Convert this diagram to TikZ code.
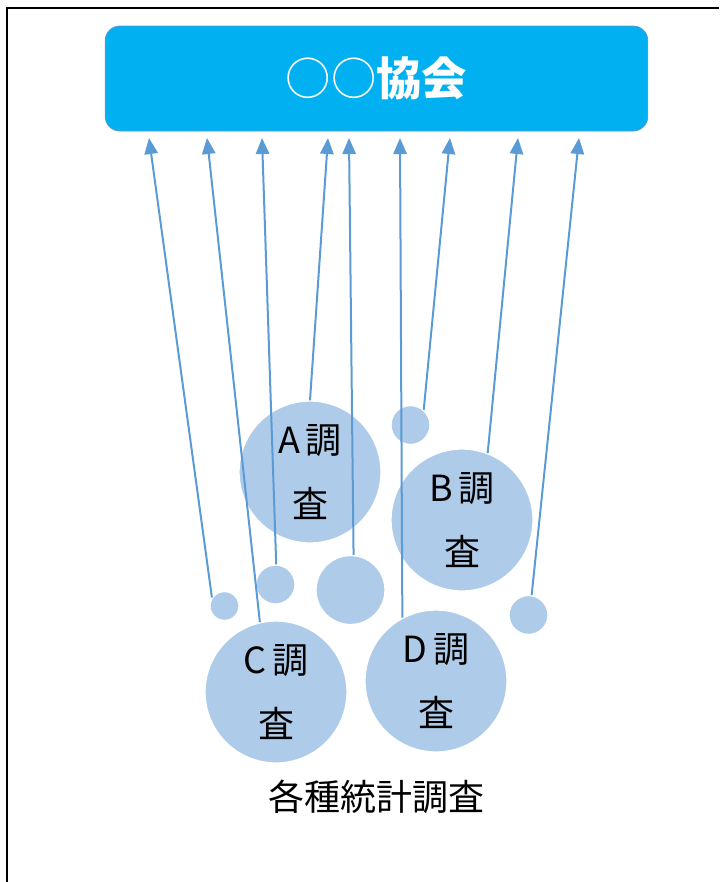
\documentclass[tikz,border=0pt]{standalone}
\usepackage{fontspec}
\usepackage{xcolor}
\usepackage{tikz}
\usetikzlibrary{shapes,arrows.meta}
\usetikzlibrary{positioning}
\newfontfamily\jp{Noto Sans CJK JP}
\definecolor{kyoblue}{RGB}{0,176,240}
\definecolor{kyoedge}{RGB}{91,155,213}
\definecolor{bubblefill}{RGB}{174,203,233}
\definecolor{arrowblue}{RGB}{91,155,213}
\tikzset{bubble/.style={circle,fill=bubblefill,draw=white,line width=1pt,inner sep=0pt,align=center,font=\jp\fontsize{27}{48}\selectfont}}
\tikzset{arr/.style={draw=arrowblue,line width=1.5pt,-{Triangle[length=12pt,width=10pt]}}}

\begin{document}
\begin{tikzpicture}[x=0.75pt,y=-0.75pt]
\useasboundingbox (0,0) rectangle (719,882);
\draw [line width=1.5pt] (7,882) -- (7,8) -- (719,8);

\node [fill=kyoblue,draw=kyoedge,line width=0.6pt,rounded corners=11pt,minimum width=407pt,minimum height=78.75pt,text=white,font=\jp\fontsize{34}{40}\selectfont] (kyokai) at (376.5,78.5) {○○\textbf{協会}};

\node [bubble,minimum size=106.5pt] (cA) at (310,472) {A\hspace{4pt}調\\査};
\node [bubble,minimum size=106.5pt] (cB) at (462,520) {B\hspace{4pt}調\\査};
\node [bubble,minimum size=106.5pt] (cC) at (276,692) {C\hspace{4pt}調\\査};
\node [bubble,minimum size=106.5pt] (cD) at (436,681) {D\hspace{4pt}調\\査};
\node [bubble,minimum size=51.75pt] (bigdot) at (350.5,590) {};
\node [bubble,minimum size=21.75pt] (dot1) at (224.5,606) {};
\node [bubble,minimum size=29.25pt] (dot2) at (275.5,584.5) {};
\node [bubble,minimum size=29.25pt] (dot3) at (410.5,425) {};
\node [bubble,minimum size=29.25pt] (dot4) at (528.5,615) {};

\node [font=\jp\fontsize{27}{30}\selectfont] (kakushu) at (376,797) {各種統計調査};

\foreach \x [count=\i] in {149,207,262,328,349,400,450,518,579}
  \coordinate (h\i) at (\x,138);
\foreach \t [count=\i] in {dot1.146,cC.103,dot2.88,cA.north,bigdot.85,cD.118,dot3.49,cB.69,dot4.81}
  \draw [arr] (\t) -- (h\i);
\end{tikzpicture}
\end{document}
